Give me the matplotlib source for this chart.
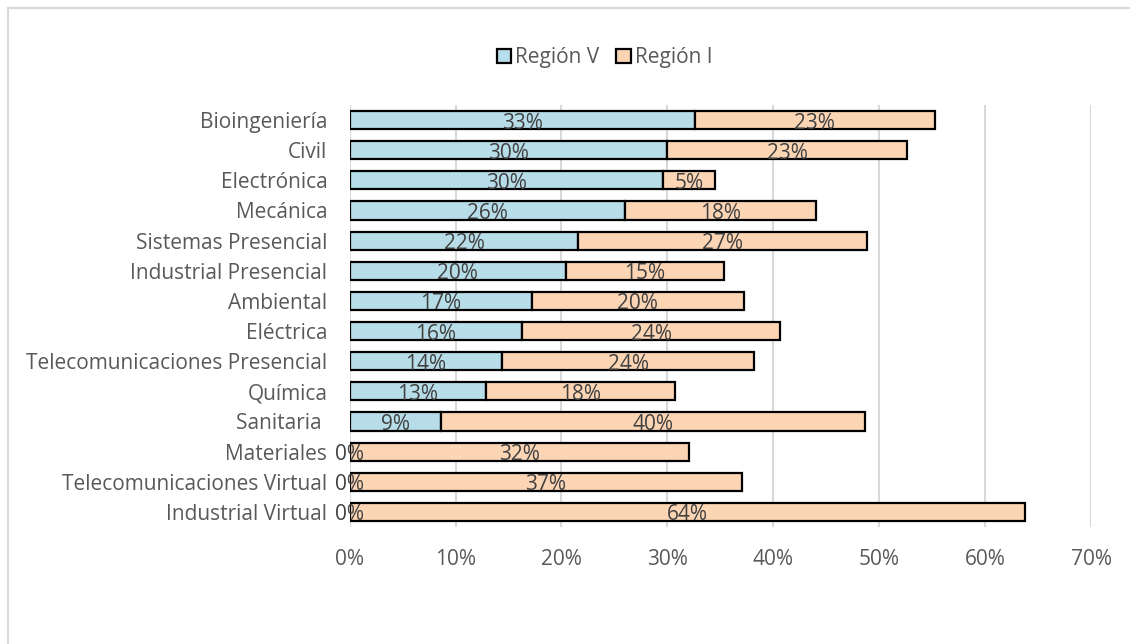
import matplotlib
matplotlib.use("Agg")
import matplotlib.pyplot as plt
from matplotlib.lines import Line2D
from matplotlib.ticker import PercentFormatter

# Data (fractions), top to bottom as shown
carreras = ["Bioingeniería", "Civil", "Electrónica", "Mecánica", "Sistemas Presencial",
            "Industrial Presencial", "Ambiental", "Eléctrica", "Telecomunicaciones Presencial",
            "Química", "Sanitaria ", "Materiales", "Telecomunicaciones Virtual", "Industrial Virtual"]
region_v = [0.326, 0.300, 0.296, 0.260, 0.216, 0.204, 0.172, 0.163, 0.144, 0.129, 0.086, 0.0, 0.0, 0.0]
region_i = [0.226, 0.226, 0.049, 0.180, 0.272, 0.149, 0.200, 0.243, 0.238, 0.178, 0.400, 0.320, 0.370, 0.637]
x_ticks = [0, 0.1, 0.2, 0.3, 0.4, 0.5, 0.6, 0.7]

color_v = "#B7DDE8"
color_i = "#FCD5B5"
font = "Open Sans"
fsize = 15

plt.rcParams["font.family"] = [font, "DejaVu Sans"]

fig = plt.figure(figsize=(11.3, 6.44), dpi=100)
ax = fig.add_axes([0.3093, 0.1817, 0.6566, 0.6553])

y = list(range(len(carreras)))
ax.barh(y, region_v, height=0.6, color=color_v, edgecolor="black", linewidth=1.6, zorder=3)
ax.barh(y, region_i, left=region_v, height=0.6, color=color_i, edgecolor="black", linewidth=1.6, zorder=3)

# data labels centered in each segment
for i in y:
    ax.text(region_v[i] / 2, i + 0.1, f"{region_v[i]*100:.0f}%", ha="center", va="center",
            fontsize=fsize, color="#404040", zorder=4)
    ax.text(region_v[i] + region_i[i] / 2, i + 0.1, f"{region_i[i]*100:.0f}%", ha="center",
            va="center", fontsize=fsize, color="#404040", zorder=4)

ax.set_ylim(len(carreras) - 0.5, -0.5)
ax.set_xlim(0, 0.7)
ax.set_yticks(y)
ax.set_yticklabels(carreras)
ax.set_xticks(x_ticks)
ax.xaxis.set_major_formatter(PercentFormatter(1.0, decimals=0))
ax.tick_params(axis="y", length=0, pad=16, labelsize=fsize, labelcolor="#595959")
ax.tick_params(axis="x", length=0, pad=16, labelsize=fsize, labelcolor="#595959")
ax.grid(axis="x", color="#D9D9D9", linewidth=1.5, zorder=0)
ax.set_axisbelow(True)
for s in ax.spines.values():
    s.set_visible(False)

handles = [plt.Rectangle((0, 0), 1, 1, facecolor=color_v, edgecolor="black", linewidth=1.6),
           plt.Rectangle((0, 0), 1, 1, facecolor=color_i, edgecolor="black", linewidth=1.6)]
fig.legend(handles, ["Región V", "Región I"], loc="center", bbox_to_anchor=(0.535, 0.91),
           ncol=2, frameon=False, handlelength=0.7, handleheight=0.7, handletextpad=0.2,
           columnspacing=0.8, prop={"size": fsize}, labelcolor="#595959")

# chart area border (only top and left visible in the crop)
fig.add_artist(Line2D([8 / 1130, 1], [1 - 8 / 644, 1 - 8 / 644], color="#D9D9D9", linewidth=1.5,
                      transform=fig.transFigure))
fig.add_artist(Line2D([8 / 1130, 8 / 1130], [0, 1 - 8 / 644], color="#D9D9D9", linewidth=1.5,
                      transform=fig.transFigure))

fig.savefig("out.png", dpi=100)
